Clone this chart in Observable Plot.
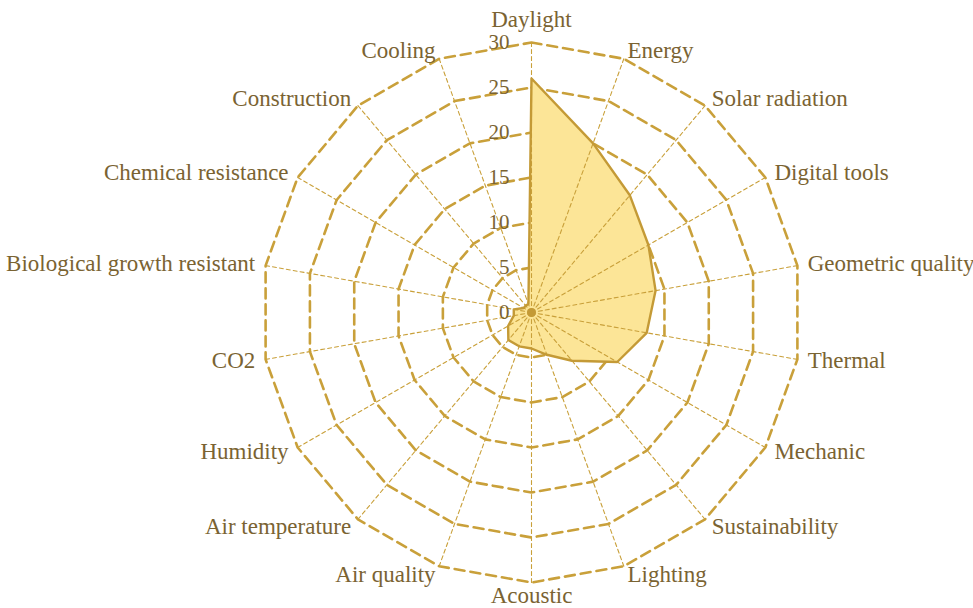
<!DOCTYPE html>
<html><head><meta charset="utf-8">
<script src="https://cdn.jsdelivr.net/npm/d3@7"></script>
<script src="https://cdn.jsdelivr.net/npm/@observablehq/plot@0.6"></script>
<style>body{margin:0;background:#fff;overflow:hidden;} svg{display:block;}</style>
</head><body><div id="chart"></div>
<script>
const categories = ["Daylight","Energy","Solar radiation","Digital tools","Geometric quality","Thermal","Mechanic","Sustainability","Lighting","Acoustic","Air quality","Air temperature","Humidity","CO2","Biological growth resistant","Chemical resistance","Construction","Cooling"];
const values = [26,20,17,15,14,13,11,7,5,4,4,4,3,2,2,1,1,1];
const ticks = [0,5,10,15,20,25,30];
const maxValue = 30;

const unit = 9; // pixels per value unit
const n = categories.length;
const ang = i => i * 2 * Math.PI / n;
const px = (r, i) => r * Math.sin(ang(i));
const py = (r, i) => r * Math.cos(ang(i));

const rings = ticks.filter(t => t > 0).flatMap(t => categories.map((c, i) => ({t, x: px(t, i), y: py(t, i)})));
const spokes = categories.flatMap((c, i) => [{c, x: 0, y: 0}, {c, x: px(maxValue, i), y: py(maxValue, i)}]);
const poly = values.map((v, i) => ({c: categories[i], x: px(v, i), y: py(v, i)}));
const off = 10.5 / unit;
const labels = categories.map((c, i) => {
  const s = Math.sin(ang(i)), co = Math.cos(ang(i));
  const anchor = s > 0.01 ? "start" : s < -0.01 ? "end" : "middle";
  const vext = co > 0 ? 14 / unit : 4.5 / unit;
  return {c, anchor, x: px(maxValue + off, i), y: py(maxValue + off, i) - co * 1.5 / unit + (anchor === "middle" ? Math.sign(co) * vext : 0)};
});
const tickLabels = ticks.map(t => ({t, x: -22 / unit, y: t}));

const textColor = "#7a6332";
const gridColor = "#c9a03a";
const font = "'Liberation Serif','Times New Roman',serif";

const chart = Plot.plot({
  width: 973, height: 608, margin: 0,
  x: {domain: [-531 / unit, (973 - 531) / unit], range: [0, 973], axis: null},
  y: {domain: [-(608 - 312) / unit, 312 / unit], range: [608, 0], axis: null},
  style: {fontFamily: font, background: "#fff"},
  marks: [
    Plot.line(rings, {x: "x", y: "y", z: "t", curve: "linear-closed", stroke: gridColor, strokeWidth: 2.6, strokeDasharray: "10,6"}),
    Plot.line(poly, {x: "x", y: "y", curve: "linear-closed", fill: "#fce597", stroke: "none"}),
    Plot.line(spokes, {x: "x", y: "y", z: "c", stroke: gridColor, strokeWidth: 1.1, strokeDasharray: "4,3"}),
    Plot.line(poly, {x: "x", y: "y", curve: "linear-closed", stroke: "#c49a36", strokeWidth: 2.4}),
    Plot.dot([{x: 0, y: 0}], {x: "x", y: "y", r: 4.5, fill: "#c49a36"}),
    Plot.text(tickLabels, {x: "x", y: "y", text: d => String(d.t), textAnchor: "end", fill: textColor, fontSize: 21, fontFamily: font}),
    Plot.text(labels.filter(d => d.anchor === "start"), {x: "x", y: "y", text: "c", textAnchor: "start", fill: textColor, fontSize: 23, fontFamily: font}),
    Plot.text(labels.filter(d => d.anchor === "end"), {x: "x", y: "y", text: "c", textAnchor: "end", fill: textColor, fontSize: 23, fontFamily: font}),
    Plot.text(labels.filter(d => d.anchor === "middle"), {x: "x", y: "y", text: "c", textAnchor: "middle", fill: textColor, fontSize: 23, fontFamily: font})
  ]
});
document.getElementById("chart").appendChild(chart);
</script>
</body></html>
